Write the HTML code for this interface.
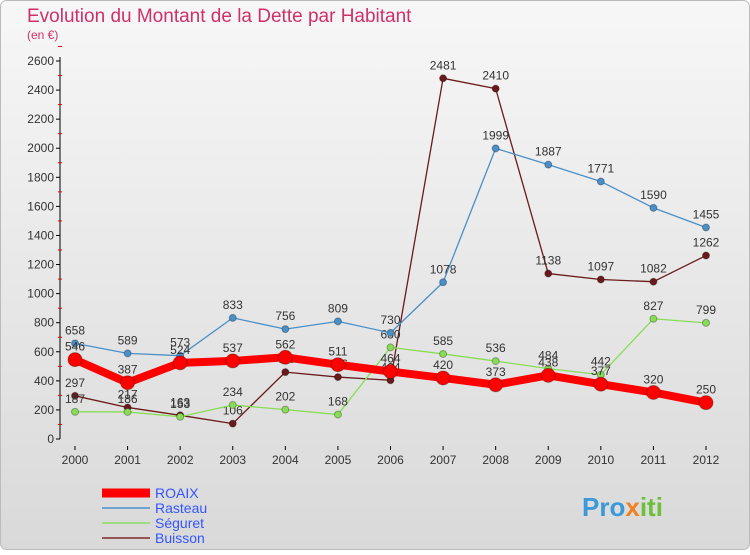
<!DOCTYPE html>
<html><head><meta charset="utf-8"><style>
body{margin:0;width:750px;height:550px;overflow:hidden;font-family:"Liberation Sans",sans-serif}
</style></head><body>
<svg width="750" height="550" xmlns="http://www.w3.org/2000/svg" font-family="Liberation Sans, sans-serif">
<defs><linearGradient id="bg" x1="0" y1="0" x2="0" y2="1"><stop offset="0" stop-color="#f7f7f7"/><stop offset="1" stop-color="#d9d9d9"/></linearGradient></defs>
<rect x="0.5" y="0.5" width="749" height="549" rx="6" fill="url(#bg)" stroke="#bbb"/>
<text x="27" y="22" font-size="19" fill="#d0306a">Evolution du Montant de la Dette par Habitant</text>
<text x="27" y="39" font-size="12" fill="#d0306a">(en €)</text>
<g id="axes"></g><g id="series"></g>
<g font-size="14">
<line x1="102" y1="493" x2="150" y2="493" stroke="#ff0000" stroke-width="9"/>
<text x="155" y="498" fill="#3355ff">ROAIX</text>
<line x1="102" y1="508" x2="150" y2="508" stroke="#4a90c8" stroke-width="1.5"/>
<text x="155" y="513" fill="#3355ff">Rasteau</text>
<line x1="102" y1="523" x2="150" y2="523" stroke="#88dd66" stroke-width="1.5"/>
<text x="155" y="528" fill="#3355ff">Séguret</text>
<line x1="102" y1="538" x2="150" y2="538" stroke="#7a2a2a" stroke-width="1.5"/>
<text x="155" y="543" fill="#3355ff">Buisson</text>
</g>
<text x="582" y="516" font-size="26" font-weight="bold" fill="#3a9ad9">Pro<tspan fill="#f08020">x</tspan><tspan fill="#6cbf3a">iti</tspan></text>
</svg>
<script>
const years=[2000,2001,2002,2003,2004,2005,2006,2007,2008,2009,2010,2011,2012];
const roaix=[546,387,524,537,562,511,464,420,373,438,377,320,250];
const rasteau=[658,589,573,833,756,809,730,1078,1999,1887,1771,1590,1455];
const seguret=[187,186,153,234,202,168,630,585,536,484,442,827,799];
const buisson=[297,217,163,106,460,426,404,2481,2410,1138,1097,1082,1262];
const yTicks=[0,200,400,600,800,1000,1200,1400,1600,1800,2000,2200,2400,2600];
const NS="http://www.w3.org/2000/svg";
const X=i=>75+i*(706-75)/(years.length-1);
const Y=v=>439-v*(378/2600);
function mk(t,a,p){const e=document.createElementNS(NS,t);for(const k in a)e.setAttribute(k,a[k]);p.appendChild(e);return e;}
const ax=document.getElementById('axes');
let l=mk('line',{x1:60,y1:Y(0),x2:60,y2:Y(2600)-4,stroke:'#000'},ax);


yTicks.forEach(v=>{
 let t=mk('line',{x1:56,y1:Y(v),x2:60,y2:Y(v),stroke:'#000'},ax);
 
 
 let m=mk('line',{x1:58,y1:Y(v+100),x2:62,y2:Y(v+100),stroke:'#e00'},ax);
 
 
 let s=mk('text',{x:54,y:Y(v)+4,'font-size':12,'text-anchor':'end',fill:'#333'},ax);s.textContent=v;
 
 
});
years.forEach((y,i)=>{
 let t=mk('line',{x1:X(i),y1:446,x2:X(i),y2:450,stroke:'#000'},ax);
 
 
 let s=mk('text',{x:X(i),y:464,'font-size':12,'text-anchor':'middle',fill:'#333'},ax);s.textContent=y;
 
 
});
const sg=document.getElementById('series');
function draw(d,name,col,w,r,lab){
 const g=mk('g',{},sg);
 
 
 const p=mk('polyline',{points:d.map((v,i)=>X(i)+','+Y(v)).join(' '),fill:'none',stroke:col,'stroke-width':w,'stroke-linejoin':'round'},g);
 
 
 d.forEach((v,i)=>{
  const c=mk('circle',{cx:X(i),cy:Y(v),r:r,fill:col,stroke:'rgba(0,0,0,0.3)'},g);
  
  
  const t=mk('text',{x:X(i),y:Y(v)-9,'font-size':12,'text-anchor':'middle',fill:'#333'},g);t.textContent=v;
  
  
 });
}
draw(buisson,'buisson','#6a1a1a',1.3,3.5);
draw(seguret,'seguret','#88dd55',1.3,3.5);
draw(rasteau,'rasteau','#4a90c8',1.3,3.5);
draw(roaix,'roaix','#ff0000',8,7);
</script>
</body></html>
